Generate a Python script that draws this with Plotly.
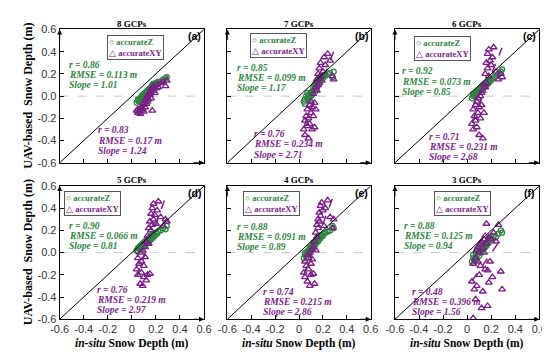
import numpy as np
import plotly.graph_objects as go

# ---------------- data ----------------
panel_titles = ["8 GCPs", "7 GCPs", "6 GCPs", "5 GCPs", "4 GCPs", "3 GCPs"]
panel_tags = ["(a)", "(b)", "(c)", "(d)", "(e)", "(f)"]

insitu = [0.04, 0.05, 0.05, 0.06, 0.07, 0.07, 0.08, 0.08, 0.09, 0.09, 0.10, 0.10,
          0.11, 0.11, 0.12, 0.12, 0.13, 0.13, 0.14, 0.14, 0.15, 0.15, 0.16, 0.16,
          0.17, 0.17, 0.18, 0.18, 0.19, 0.20, 0.21, 0.22, 0.24, 0.26, 0.28, 0.29]

z_a = [-0.06, -0.04, -0.03, -0.05, -0.02, -0.04, 0.00, -0.03, 0.01, -0.02, 0.02, 0.00,
       0.03, 0.01, 0.04, 0.02, 0.05, 0.03, 0.06, 0.04, 0.07, 0.05, 0.08, 0.06,
       0.08, 0.10, 0.09, 0.11, 0.10, 0.12, 0.11, 0.13, 0.13, 0.15, 0.16, 0.17]
xy_a = [-0.13, -0.15, -0.12, -0.14, -0.11, -0.16, -0.10, -0.13, -0.12, -0.08, -0.14, -0.06,
        -0.10, -0.04, -0.02, -0.07, 0.00, -0.05, 0.02, -0.03, 0.04, 0.01, 0.06, -0.02,
        0.08, -0.13, 0.05, 0.09, 0.03, 0.07, 0.10, 0.08, 0.12, 0.13, 0.09, 0.14]

z_b = [-0.05, -0.03, -0.07, 0.00, -0.02, 0.03, -0.04, 0.01, 0.02, -0.01, 0.03, 0.00,
       0.04, 0.01, 0.05, 0.08, 0.06, 0.10, 0.09, 0.12, 0.11, 0.14, 0.13, 0.15,
       0.12, 0.16, 0.15, 0.18, 0.17, 0.16, 0.19, 0.18, 0.20, 0.21, 0.17, 0.22]
xy_b = [-0.30, -0.22, -0.35, -0.18, -0.27, -0.12, -0.38, -0.20, -0.08, -0.25, -0.15, -0.05,
        -0.30, -0.10, 0.02, -0.18, -0.06, -0.28, 0.08, -0.12, 0.05, 0.15, 0.10, 0.20,
        0.12, 0.25, 0.18, 0.30, 0.14, 0.22, 0.35, 0.28, 0.38, 0.32, 0.18, 0.15]

z_c = [-0.02, 0.00, 0.02, 0.01, 0.03, 0.00, 0.04, 0.02, 0.05, 0.03, 0.06, 0.04,
       0.07, 0.05, 0.08, 0.06, 0.09, 0.07, 0.10, 0.08, 0.11, 0.09, 0.12, 0.10,
       0.13, 0.11, 0.14, 0.12, 0.15, 0.14, 0.16, 0.17, 0.18, 0.20, 0.22, 0.24]
xy_c = [-0.25, -0.12, -0.30, -0.18, -0.08, -0.22, -0.05, -0.28, -0.15, -0.02, -0.35, -0.10,
        0.00, -0.20, 0.03, -0.08, 0.05, -0.38, 0.10, -0.15, 0.20, 0.08, 0.30, 0.12,
        0.38, 0.25, 0.42, 0.18, 0.32, 0.28, 0.35, 0.44, 0.22, 0.15, 0.20, 0.17]

z_d = [0.02, 0.04, 0.01, 0.05, 0.03, 0.06, 0.04, 0.07, 0.05, 0.08, 0.06, 0.09,
       0.07, 0.10, 0.08, 0.11, 0.09, 0.12, 0.10, 0.13, 0.11, 0.14, 0.12, 0.15,
       0.13, 0.16, 0.14, 0.17, 0.15, 0.18, 0.17, 0.19, 0.20, 0.22, 0.21, 0.24]
xy_d = [-0.15, -0.05, -0.20, -0.10, -0.28, 0.00, -0.18, -0.08, -0.30, 0.02, -0.12, -0.22,
        -0.04, 0.05, -0.25, 0.10, -0.20, 0.15, 0.08, 0.22, -0.19, 0.28, 0.20, 0.35,
        0.25, 0.40, 0.30, 0.44, 0.34, 0.26, 0.38, 0.46, 0.32, 0.24, 0.30, 0.28]

z_e = [-0.05, -0.02, 0.00, -0.04, 0.01, -0.01, 0.02, 0.00, 0.03, 0.05, 0.04, 0.02,
       0.06, 0.04, 0.07, 0.09, 0.08, 0.06, 0.10, 0.08, 0.11, 0.13, 0.12, 0.10,
       0.14, 0.12, 0.15, 0.13, 0.16, 0.15, 0.17, 0.18, 0.19, 0.20, 0.24, 0.22]
xy_e = [-0.18, -0.08, -0.22, -0.12, -0.02, -0.26, -0.15, -0.05, 0.00, -0.30, -0.10, -0.20,
        0.03, -0.06, -0.19, 0.05, -0.28, 0.10, 0.02, 0.18, 0.25, 0.14, 0.30, 0.22,
        0.36, 0.28, 0.42, 0.33, 0.45, 0.38, 0.24, 0.40, 0.47, 0.32, 0.22, 0.30]

z_f = [-0.08, -0.05, -0.02, -0.07, 0.00, -0.04, -0.06, 0.02, -0.01, 0.03, 0.01, -0.03,
       0.04, 0.02, 0.05, 0.00, 0.06, 0.03, 0.07, 0.04, 0.08, 0.05, 0.09, 0.06,
       0.10, 0.08, 0.11, 0.09, 0.12, 0.13, 0.12, 0.15, 0.14, 0.17, 0.20, 0.18]
xy_f = [-0.26, -0.59, -0.10, -0.33, -0.42, -0.05, 0.02, -0.30, -0.08, 0.05, -0.20, 0.00,
        0.08, -0.12, -0.50, 0.10, 0.04, -0.35, 0.12, 0.00, 0.15, -0.15, 0.26, 0.08,
        -0.48, -0.16, 0.14, -0.27, -0.08, 0.12, -0.22, 0.18, 0.10, 0.25, -0.17, -0.33]

z_r = ["0.86", "0.85", "0.92", "0.90", "0.88", "0.88"]
z_rmse = ["0.113", "0.099", "0.073", "0.066", "0.091", "0.125"]
z_slope = ["1.01", "1.17", "0.85", "0.81", "0.89", "0.94"]
xy_r = ["0.83", "0.76", "0.71", "0.76", "0.74", "0.48"]
xy_rmse = ["0.17", "0.234", "0.231", "0.219", "0.215", "0.396"]
xy_slope = ["1.24", "2.71", "2.68", "2.97", "2.86", "1.56"]

axis_range = [-0.6, 0.6]
tick_vals = [-0.6, -0.4, -0.2, 0.0, 0.2, 0.4, 0.6]
x_tick_text = ["-0.6", "-0.4", "-0.2", "0", "0.2", "0.4", "0.6"]
y_tick_text = ["-0.6", "-0.4", "-0.2", "0.0", "0.2", "0.4", "0.6"]

z_series = [z_a, z_b, z_c, z_d, z_e, z_f]
xy_series = [xy_a, xy_b, xy_c, xy_d, xy_e, xy_f]

# ---------------- style / layout ----------------
W, H = 550, 354
GREEN = "#2e8540"
PURPLE = "#7a1f86"
SERIF = "Liberation Serif"
SANS = "Liberation Sans"

col_l = [44, 217, 390]
col_r = [193, 365, 539]
row_t = [16, 178]
row_b = [154, 316]

# per-panel text positions (pixels): left x, centre y of middle line
green_txt = [(52, 63), (225, 66), (395, 70), (52, 230), (225, 231), (397, 230)]
purple_txt = [(82, 131), (243, 135), (423, 138), (80, 296), (252, 298), (406, 298)]
legend_pos = [(93, 22), (240, 20), (410, 23), (48, 183), (233, 183), (430, 183)]
LINE_GAP = 10.5


def px(x):
    return x / W


def py(y):
    return 1 - y / H


fig = go.Figure()
layout = {}
annotations = []
shapes = []


def stat_block(x, yc, lines, color):
    for j, t in enumerate(lines):
        annotations.append(dict(xref="paper", yref="paper", x=px(x),
                                y=py(yc + (j - 1) * LINE_GAP),
                                text=f"<b><i>{t}</i></b>", showarrow=False,
                                xanchor="left", yanchor="middle",
                                font=dict(family=SERIF, size=9.5, color=color)))


for i in range(6):
    r, c = divmod(i, 3)
    k = i + 1
    xn = "x" if k == 1 else f"x{k}"
    yn = "y" if k == 1 else f"y{k}"
    xk = "xaxis" if k == 1 else f"xaxis{k}"
    yk = "yaxis" if k == 1 else f"yaxis{k}"

    common = dict(range=axis_range, tickvals=tick_vals, showgrid=False, zeroline=False,
                  showline=True, linecolor="black", linewidth=1, mirror=True,
                  ticks="inside", ticklen=4, tickcolor="black",
                  tickfont=dict(family=SANS, size=11, color="#333"))
    layout[xk] = dict(common, domain=[px(col_l[c]), px(col_r[c])], anchor=yn,
                      ticktext=x_tick_text, showticklabels=(r == 1))
    layout[yk] = dict(common, domain=[py(row_b[r]), py(row_t[r])], anchor=xn,
                      ticktext=y_tick_text, showticklabels=(c == 0))

    # zero line and 1:1 line
    shapes.append(dict(type="line", xref=xn, yref=yn, x0=axis_range[0], x1=axis_range[1],
                       y0=0, y1=0, line=dict(color="#c8c8c8", width=1, dash="dash"),
                       layer="below"))
    shapes.append(dict(type="line", xref=xn, yref=yn, x0=axis_range[0], x1=axis_range[1],
                       y0=axis_range[0], y1=axis_range[1], line=dict(color="black", width=1)))

    xs = np.array(insitu)
    yz = np.array(z_series[i])
    yxy = np.array(xy_series[i])

    # regression line of accurateXY (given slope, through centroid)
    s = float(xy_slope[i])
    b = yxy.mean() - s * xs.mean()
    xl = np.array([xs.min(), xs.max()])
    fig.add_trace(go.Scatter(x=xl, y=s * xl + b, mode="lines", xaxis=xn, yaxis=yn,
                             line=dict(color=PURPLE, width=1.5, dash="dash"),
                             showlegend=False, hoverinfo="skip"))

    fig.add_trace(go.Scatter(x=xs, y=yz, mode="markers", xaxis=xn, yaxis=yn,
                             name="accurateZ", showlegend=False,
                             marker=dict(symbol="circle-open", size=5, color=GREEN,
                                         line=dict(width=1.3, color=GREEN))))
    fig.add_trace(go.Scatter(x=xs, y=yxy, mode="markers", xaxis=xn, yaxis=yn,
                             name="accurateXY", showlegend=False,
                             marker=dict(symbol="triangle-up-open", size=6, color=PURPLE,
                                         line=dict(width=1.3, color=PURPLE))))

    # panel title
    annotations.append(dict(xref="paper", yref="paper",
                            x=px((col_l[c] + col_r[c]) / 2), y=py(row_t[r] - 6),
                            text=f"<b>{panel_titles[i]}</b>", showarrow=False,
                            font=dict(family=SERIF, size=9, color="black"),
                            xanchor="center", yanchor="middle"))
    # panel tag
    annotations.append(dict(xref="paper", yref="paper",
                            x=px(col_r[c] - 10), y=py(row_t[r] + 7),
                            text=f"<b>{panel_tags[i]}</b>", showarrow=False,
                            font=dict(family=SANS, size=10.5, color="black"),
                            xanchor="center", yanchor="middle"))
    # stats texts
    gx, gy = green_txt[i]
    stat_block(gx, gy, [f"r = {z_r[i]}", f"RMSE = {z_rmse[i]} m", f"Slope = {z_slope[i]}"],
               GREEN)
    qx, qy = purple_txt[i]
    stat_block(qx, qy, [f"r = {xy_r[i]}", f"RMSE = {xy_rmse[i]} m", f"Slope = {xy_slope[i]}"],
               PURPLE)
    # legend box
    lx, ly = legend_pos[i]
    annotations.append(dict(xref="paper", yref="paper", x=px(lx), y=py(ly),
                            text=(f"<span style='color:{GREEN}'>○ <b>accurateZ</b></span><br>"
                                  f"<span style='color:{PURPLE}'>△ <b>accurateXY</b></span>"),
                            showarrow=False, align="left", xanchor="left", yanchor="top",
                            bordercolor="#555", borderwidth=1, borderpad=1, bgcolor="white",
                            font=dict(family=SERIF, size=8.5)))
    # axis arrows
    annotations.append(dict(xref=xn, yref=yn, x=axis_range[0], y=axis_range[1],
                            ax=0, ay=12, text="", showarrow=True, arrowhead=2,
                            arrowsize=1, arrowwidth=1, arrowcolor="black"))
    annotations.append(dict(xref=xn, yref=yn, x=axis_range[1], y=axis_range[0],
                            ax=-12, ay=0, text="", showarrow=True, arrowhead=2,
                            arrowsize=1, arrowwidth=1, arrowcolor="black"))

# row y-axis titles
for r in range(2):
    annotations.append(dict(xref="paper", yref="paper", x=px(11),
                            y=py((row_t[r] + row_b[r]) / 2),
                            text="<b>UAV-based  Snow Depth (m)</b>", textangle=-90,
                            showarrow=False, xanchor="center", yanchor="middle",
                            font=dict(family=SERIF, size=12, color="black")))
# column x-axis titles
for c in range(3):
    annotations.append(dict(xref="paper", yref="paper",
                            x=px((col_l[c] + col_r[c]) / 2), y=py(341),
                            text="<b><i>in-situ</i> Snow Depth (m)</b>",
                            showarrow=False, xanchor="center", yanchor="middle",
                            font=dict(family=SERIF, size=11.5, color="black")))

fig.update_layout(width=W, height=H, margin=dict(l=0, r=0, t=0, b=0),
                  paper_bgcolor="white", plot_bgcolor="white", showlegend=False,
                  annotations=annotations, shapes=shapes, **layout)

fig.write_html("out.html")
